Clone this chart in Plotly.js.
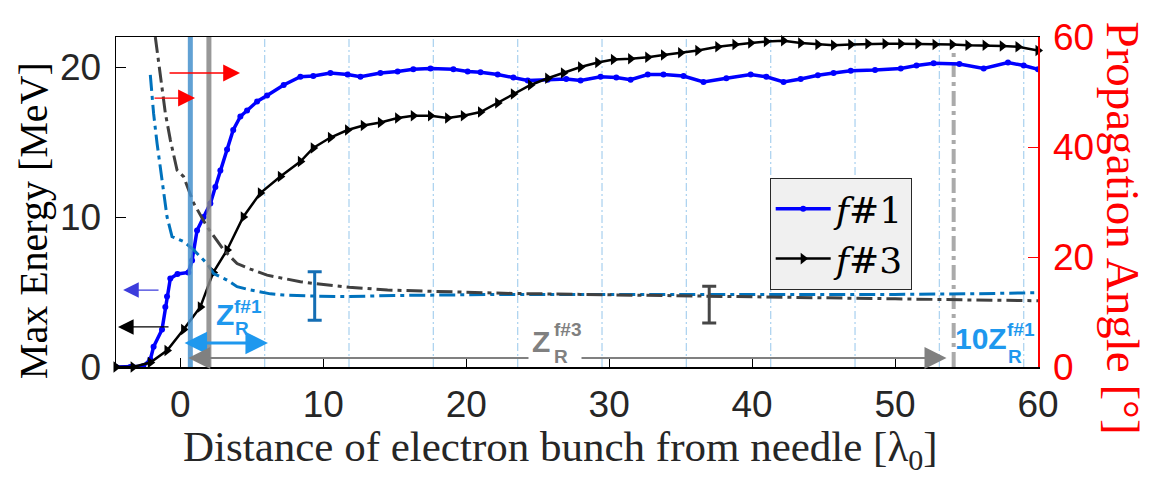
<!DOCTYPE html>
<html>
<head>
<meta charset="utf-8">
<script src="https://cdn.plot.ly/plotly-3.0.1.min.js"></script>
<style>html,body{margin:0;padding:0;background:#fff;}#chart{width:1166px;height:478px;}</style>
</head>
<body>
<div id="chart"></div>
<script>
// ---- Data ----
const distF1 = [-4.5,-3.5,-2.6,-2.1,-1.87,-1.28,-1.05,-0.93,-0.7,-0.2,0.56,0.82,1.17,1.63,2.1,2.45,2.8,3.27,3.7,4.2,4.67,5.37,6.07,7.23,8.4,9.3,10.5,11.7,12.6,14.0,15.2,16.3,17.5,19.1,20.1,21.0,22.2,23.3,24.3,25.7,27.0,28.0,29.4,30.5,31.5,32.7,33.8,35.2,36.6,38.2,39.9,41.0,42.2,43.4,44.6,45.7,46.9,48.6,50.4,51.5,52.7,54.5,56.2,57.9,59.0,60.0];
const energyF1 = [0,0,0.05,0.5,1.35,2.5,4.0,4.7,5.9,6.2,6.3,7.1,9.1,10.0,10.9,12.0,13.1,14.5,15.8,16.7,17.1,17.7,18.1,18.8,19.35,19.4,19.6,19.5,19.35,19.6,19.7,19.85,19.9,19.85,19.7,19.65,19.5,19.3,19.1,19.15,19.2,19.1,19.35,19.3,19.15,19.5,19.5,19.4,19.0,19.25,19.5,19.35,19.0,19.2,19.45,19.6,19.75,19.8,19.9,20.1,20.25,20.2,19.9,20.3,20.1,19.85];

const distF3 = [-4.5,-3.3,-2.1,-0.93,0.23,1.4,2.3,3.27,4.4,5.6,7.0,8.4,9.3,10.5,11.7,12.8,14.0,15.2,16.3,17.5,18.7,19.8,21.0,22.2,23.3,24.5,25.7,26.8,28.0,29.2,30.3,31.5,32.7,33.8,35.0,36.2,37.6,38.8,39.9,41.0,42.2,43.4,44.6,45.7,46.9,48.1,49.3,50.4,51.6,52.8,54.0,55.1,56.3,57.5,58.6,60.0];
const energyF3 = [0,0,0.3,1.1,2.5,4.0,6.3,7.8,10.0,11.6,12.7,13.7,14.6,15.3,15.8,16.1,16.3,16.6,16.75,16.75,16.6,16.75,17.0,17.6,18.2,18.8,19.25,19.6,20.0,20.3,20.5,20.55,20.65,20.8,20.95,21.1,21.35,21.5,21.6,21.7,21.75,21.6,21.5,21.45,21.5,21.55,21.55,21.55,21.55,21.5,21.5,21.45,21.45,21.4,21.35,21.1];

const distAngF1 = [-2.1,-1.87,-1.63,-1.28,-0.93,-0.58,0.23,0.93,1.87,2.33,3.27,3.97,4.9,6.3,7.2,9.3,11.8,15.0,18.0,22.6,30.0,40.0,50.0,55.0,60.0];
const angleF1 = [53.1,46.1,40.7,34.0,27.3,23.7,22.8,21.3,18.8,17.0,15.8,14.6,14.0,13.3,13.1,12.9,12.8,13.0,13.1,13.2,13.2,13.15,13.2,13.3,13.5];

const distAngF3 = [-1.75,-1.4,-1.05,-0.7,-0.23,0.23,0.93,1.87,3.03,3.97,4.9,6.07,8.4,9.3,11.8,14.5,18.0,22.6,28.0,34.3,40.0,45.0,50.0,55.0,60.0];
const angleF3 = [60.0,53.4,46.2,41.3,35.8,34.6,29.8,25.5,21.3,18.8,17.8,16.7,15.5,15.2,14.5,14.0,13.7,13.4,13.2,13.0,12.8,12.6,12.4,12.2,12.05];

const errDist = [9.4, 37.0];
const errCenter = [12.9, 11.35];
const errHalf = [4.4, 3.35];

const zrGridF1 = [5.9,11.8,17.7,23.6,29.5,35.4,41.3,47.2,53.1,59.0];
const focusF1 = 0.7;
const focusF3 = 2.0;
const zrEndF3 = 54.1;

const xTicks = [0,10,20,30,40,50,60];
const yTicks = [0,10,20];
const y2Ticks = [0,20,40,60];

// ---- Styles ----
const BLUE = 'rgb(0,0,255)';
const DBLUE = 'rgb(0,114,189)';
const LBLUE = 'rgb(30,152,238)';
const GRAY = 'rgb(128,128,128)';
const DGRAY = 'rgb(64,64,64)';
const TICKFONT = {family:'Liberation Sans, Arial, sans-serif', size:37, color:'rgb(38,38,38)'};
const DASHDOT = '16px,5px,4px,5px';

const traces = [
  {x: distAngF1, y: angleF1, yaxis:'y2', mode:'lines', showlegend:false,
   line:{color:DBLUE, width:3, dash:DASHDOT}},
  {x: distAngF3, y: angleF3, yaxis:'y2', mode:'lines', showlegend:false,
   line:{color:DGRAY, width:3, dash:DASHDOT}},
  {x: distF1, y: energyF1, name:'<i>f</i>#1', mode:'lines+markers',
   line:{color:BLUE, width:3.5}, marker:{color:BLUE, size:6, symbol:'circle'}},
  {x: distF3, y: energyF3, name:'<i>f</i>#3', mode:'lines+markers', cliponaxis:false,
   line:{color:'black', width:2.5}, marker:{color:'black', size:10, symbol:'triangle-right'}},
  {x: [errDist[0]], y: [errCenter[0]], yaxis:'y2', mode:'markers', showlegend:false,
   marker:{size:1, color:DBLUE},
   error_y:{type:'data', array:[errHalf[0]], color:'rgb(20,110,180)', thickness:3, width:7}},
  {x: [errDist[1]], y: [errCenter[1]], yaxis:'y2', mode:'markers', showlegend:false,
   marker:{size:1, color:DGRAY},
   error_y:{type:'data', array:[errHalf[1]], color:'rgb(70,70,70)', thickness:3, width:7}}
];

const shapes = [];
zrGridF1.forEach(v => shapes.push({type:'line', xref:'x', yref:'paper', x0:v, x1:v, y0:0, y1:1,
  layer:'below', line:{color:'rgb(175,212,240)', width:1.3, dash:'8px,3px,2px,3px'}}));
shapes.push({type:'line', xref:'x', yref:'paper', x0:focusF1, x1:focusF1, y0:0, y1:1,
  layer:'above', opacity:0.85, line:{color:'rgb(70,145,205)', width:5}});
shapes.push({type:'line', xref:'x', yref:'paper', x0:focusF3, x1:focusF3, y0:0, y1:1,
  layer:'above', opacity:0.85, line:{color:'rgb(135,135,135)', width:5}});
shapes.push({type:'line', xref:'x', yref:'y', x0:zrEndF3, x1:zrEndF3, y0:0, y1:21.0,
  layer:'below', line:{color:'rgb(170,170,170)', width:4, dash:'15px,5px,4px,5px'}});

function arrow(x, y, ax, ay, color, w, size, both) {
  const a = {x:x, y:y, ax:ax, ay:ay, xref:'x', yref:'y', axref:'x', ayref:'y',
    text:'', showarrow:true, arrowhead:2, arrowsize:size, arrowwidth:w, arrowcolor:color, standoff:0, startstandoff:0};
  if (both) { a.arrowside = 'end+start'; a.startarrowhead = 2; a.startarrowsize = size; }
  return a;
}
function label(x, y, text, size, color, extra) {
  return Object.assign({x:x, y:y, xref:'x', yref:'y', text:text, showarrow:false,
    xanchor:'center', yanchor:'middle',
    font:{family:'Liberation Sans, Arial, sans-serif', size:size, color:color}}, extra || {});
}

const annotations = [
  arrow(4.18, 19.6, -0.86, 19.6, 'rgb(255,0,0)', 1.3, 2.6, false),
  arrow(1.03, 17.93, -1.91, 17.93, 'rgb(255,0,0)', 1.3, 2.6, false),
  arrow(-4.0, 5.13, -1.42, 5.13, 'rgb(60,60,220)', 1.3, 2.4, false),
  arrow(-4.36, 2.67, -0.72, 2.67, 'black', 1.3, 2.4, false),
  arrow(6.13, 1.6, 0.19, 1.6, LBLUE, 3, 1.5, true),
  arrow(53.6, 0.6, 0.45, 0.6, GRAY, 2, 2.2, true),
  label(3.13, 3.47, '<b>Z</b>', 30, LBLUE),
  label(4.75, 4.05, '<b>f#1</b>', 19, LBLUE),
  label(4.3, 2.6, '<b>R</b>', 19, LBLUE),
  label(26.2, 0.6, ' ', 10, GRAY, {bgcolor:'white', width:50, height:6}),
  label(25.2, 1.67, '<b>Z</b>', 30, GRAY),
  label(27.1, 2.5, '<b>f#3</b>', 19, GRAY),
  label(26.6, 0.73, '<b>R</b>', 19, GRAY),
  label(56.0, 1.87, '<b>10Z</b>', 30, LBLUE),
  label(58.8, 2.5, '<b>f#1</b>', 19, LBLUE),
  label(58.4, 0.73, '<b>R</b>', 19, LBLUE),
  {xref:'paper', yref:'paper', x:-0.09, y:0.442, text:'Max Energy [MeV]', textangle:-90, showarrow:false,
   xanchor:'center', yanchor:'middle', font:{family:'Liberation Serif, Times New Roman, serif', size:40, color:'black'}},
  {xref:'paper', yref:'paper', x:1.092, y:0.42, text:'Propagation Angle [°]', textangle:90, showarrow:false,
   xanchor:'center', yanchor:'middle', font:{family:'Liberation Serif, Times New Roman, serif', size:47, color:'rgb(255,0,0)'}},
  {xref:'paper', yref:'paper', x:0.4816, y:-0.253, text:'Distance of electron bunch from needle [λ<sub>0</sub>]', showarrow:false,
   xanchor:'center', yanchor:'middle', font:{family:'Liberation Serif, Times New Roman, serif', size:43, color:'rgb(38,38,38)'}}
];

const layout = {
  width:1166, height:478,
  margin:{l:116, r:128, t:37, b:111, pad:0},
  paper_bgcolor:'white', plot_bgcolor:'white',
  showlegend:true,
  legend:{x:0.709, y:0.573, xanchor:'left', yanchor:'top', bgcolor:'rgb(240,240,240)',
    bordercolor:'rgb(40,40,40)', borderwidth:1,
    font:{family:'DejaVu Serif, serif', size:36, color:'black'}, itemwidth:55, tracegroupgap:0},
  xaxis:{range:[-4.5,60], tickvals:xTicks, ticks:'inside', ticklen:9, tickwidth:1, tickcolor:'black',
    showline:true, linecolor:'black', linewidth:1.5, mirror:true, showgrid:false, zeroline:false,
    tickfont:TICKFONT, ticklabelstandoff:4},
  yaxis:{range:[0,22], tickvals:yTicks, ticks:'inside', ticklen:10, tickwidth:1, tickcolor:'black',
    showline:true, linecolor:'black', linewidth:1.5, showgrid:false, zeroline:false,
    tickfont:TICKFONT, ticklabelstandoff:6},
  yaxis2:{range:[0,60], tickvals:y2Ticks, overlaying:'y', side:'right', ticks:'inside', ticklen:10, tickwidth:1,
    tickcolor:'rgb(255,0,0)', showline:true, linecolor:'rgb(255,0,0)', linewidth:1.5, showgrid:false, zeroline:false,
    tickfont:{family:'Liberation Sans, Arial, sans-serif', size:37, color:'rgb(255,0,0)'}, ticklabelstandoff:6},
  shapes:shapes,
  annotations:annotations
};

Plotly.newPlot('chart', traces, layout, {displayModeBar:false, staticPlot:true});
</script>
</body>
</html>
